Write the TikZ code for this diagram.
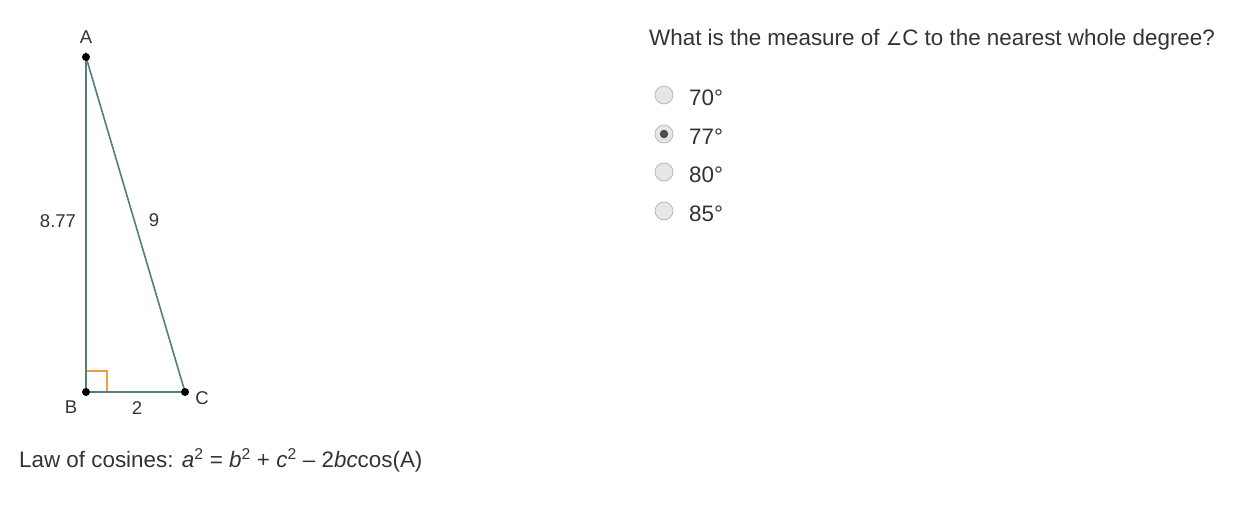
\documentclass[tikz,border=0pt]{standalone}
\usepackage{fontspec}
\setmainfont{Liberation Sans}
\newfontfamily\dejavu{DejaVu Sans}
\definecolor{edge}{HTML}{4F7F7F}
\definecolor{rmark}{HTML}{F0A040}
\definecolor{txt}{HTML}{333333}
\definecolor{radiofill}{HTML}{E6E6E6}
\definecolor{radioedge}{HTML}{B4B4B4}
\tikzset{
  every node/.style={text=txt, inner sep=0pt},
  side/.style={draw=edge, line width=1.6pt},
  vdot/.style={circle, fill=black, minimum size=8pt, inner sep=0pt},
  lbl/.style={font=\fontsize{18.5}{20}\selectfont},
  big/.style={font=\fontsize{22.4}{26}\selectfont, anchor=base west},
  radio/.style={circle, draw=radioedge, fill=radiofill, minimum size=18pt, line width=0.7pt},
}
\begin{document}
\begin{tikzpicture}[x=1pt,y=-1pt]
\useasboundingbox (0,0) rectangle (1240,512);
% triangle
\coordinate (A) at (86,57);
\coordinate (B) at (86,392);
\coordinate (C) at (185,392);
\coordinate (m1) at (86,371);
\coordinate (m2) at (107,371);
\coordinate (m3) at (107,392);
\draw[rmark, line width=1.3pt] (m1) -- (m2) -- (m3);
\draw[side] (A) -- (B) -- (C) -- cycle;
\node[vdot] (dA) at (A) {};
\node[vdot] (dB) at (B) {};
\node[vdot] (dC) at (C) {};
\node[lbl] (lA) at (86,37) {A};
\node[lbl] (lB) at (71,407) {B};
\node[lbl] (lC) at (202,398) {C};
\node[lbl] (lAB) at (58,221) {8.77};
\node[lbl] (lAC) at (154,220) {9};
\node[lbl] (lBC) at (137,408) {2};
% law of cosines
\node[big] (law) at (19,467) {Law of cosines: \textit{a}\textsuperscript{2} = \textit{b}\textsuperscript{2} + \textit{c}\textsuperscript{2} -- 2\textit{bc}cos(A)};
% question
\node[big] (q) at (649,45) {What is the measure of {\dejavu\fontsize{18.5}{20}\selectfont ∠}C to the nearest whole degree?};
% radios
\node[radio] (r1) at (664,95) {};
\node[radio] (r2) at (664,134) {};
\node[radio] (r3) at (664,172) {};
\node[radio] (r4) at (664,211) {};
\node[circle, fill=black!70, minimum size=8.5pt] (sel) at (r2) {};
\node[big] (o1) at (689,105) {70°};
\node[big] (o2) at (689,144) {77°};
\node[big] (o3) at (689,182) {80°};
\node[big] (o4) at (689,221) {85°};
\end{tikzpicture}
\end{document}
